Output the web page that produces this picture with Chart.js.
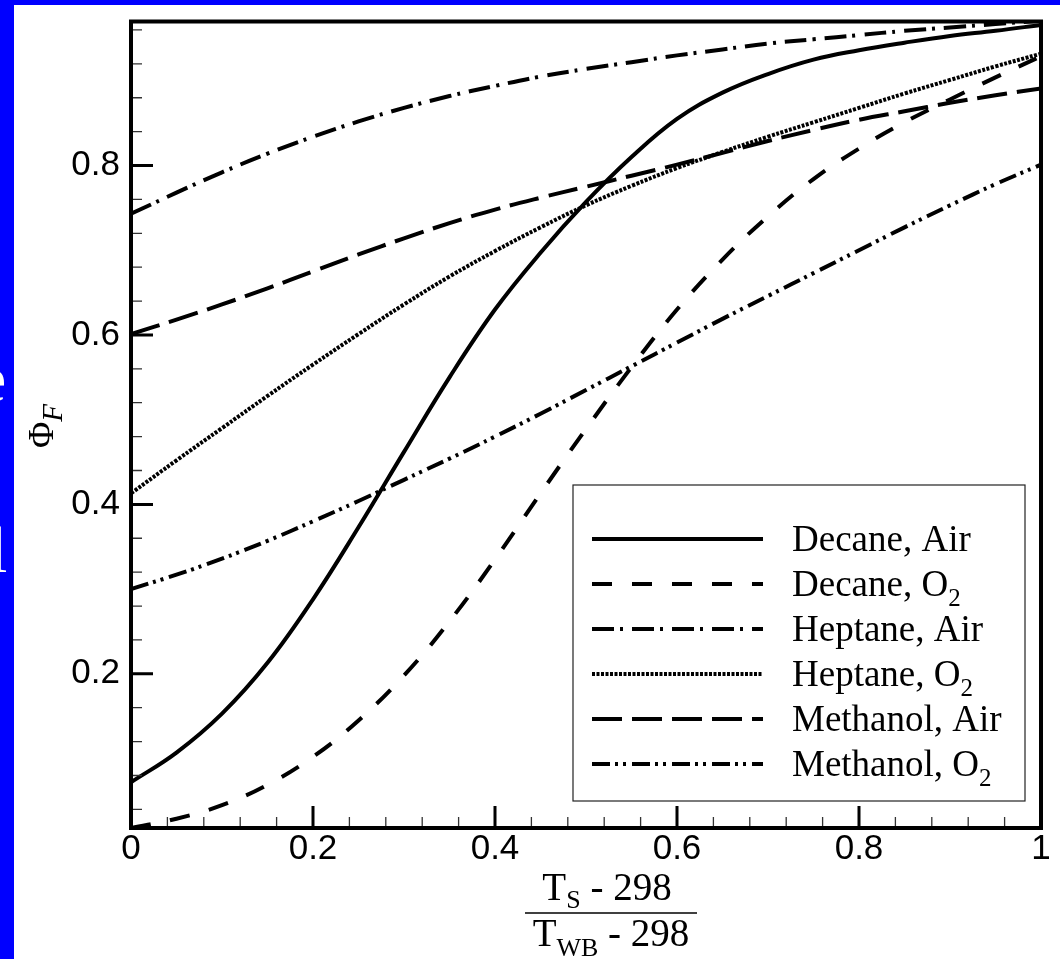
<!DOCTYPE html>
<html>
<head>
<meta charset="utf-8">
<script src="https://cdn.jsdelivr.net/npm/chart.js@4.4.1/dist/chart.umd.min.js"></script>
<style>
  html, body { margin: 0; padding: 0; background: #0000ff; width: 1060px; height: 959px; overflow: hidden; }
  #plot { position: absolute; left: 14px; top: 5px; width: 1046px; height: 954px; background: #fff; }
  .edge { position: absolute; left: 0; width: 14px; height: 80px; overflow: hidden; }
  .edge span { position: absolute; color: #fff; font: 66px/1 'Liberation Serif', 'Times New Roman', serif; }
</style>
</head>
<body>
<div class="edge" style="top:330px"><span style="left:-23px;top:16px">e</span></div>
<div class="edge" style="top:500px"><span style="left:-11px;top:17px">l</span></div>
<div id="plot"><canvas id="chartPhi" width="1046" height="954"></canvas></div>
<script>
const xValues = [0, 0.05, 0.1, 0.15, 0.2, 0.25, 0.3, 0.35, 0.4, 0.45, 0.5,
  0.55, 0.6, 0.65, 0.7, 0.75, 0.8, 0.85, 0.9, 0.95, 1];

const decaneAir = [0.072, 0.107, 0.153, 0.213, 0.288, 0.373, 0.462, 0.550, 0.630, 0.697, 0.757,
  0.810, 0.855, 0.886, 0.908, 0.925, 0.936, 0.945, 0.953, 0.959, 0.966];
const decaneO2 = [0.018, 0.029, 0.045, 0.069, 0.102, 0.145, 0.198, 0.262, 0.335, 0.413, 0.489,
  0.562, 0.630, 0.689, 0.740, 0.784, 0.820, 0.851, 0.878, 0.904, 0.929];
const heptaneAir = [0.743, 0.768, 0.792, 0.814, 0.834, 0.852, 0.868, 0.882, 0.894, 0.905, 0.914,
  0.922, 0.930, 0.937, 0.944, 0.949, 0.954, 0.959, 0.963, 0.967, 0.971];
const heptaneO2 = [0.413, 0.452, 0.490, 0.528, 0.565, 0.601, 0.636, 0.669, 0.699, 0.727, 0.753,
  0.776, 0.797, 0.816, 0.834, 0.851, 0.868, 0.885, 0.901, 0.917, 0.932];
const methanolAir = [0.601, 0.618, 0.636, 0.655, 0.675, 0.695, 0.714, 0.732, 0.748, 0.762, 0.775,
  0.788, 0.801, 0.815, 0.829, 0.842, 0.854, 0.864, 0.874, 0.883, 0.891];
const methanolO2 = [0.300, 0.317, 0.336, 0.357, 0.380, 0.404, 0.429, 0.454, 0.480, 0.507, 0.535,
  0.563, 0.591, 0.619, 0.646, 0.673, 0.700, 0.727, 0.753, 0.778, 0.801];

const seriesLabels = ['Decane, Air', 'Decane, O₂', 'Heptane, Air', 'Heptane, O₂', 'Methanol, Air', 'Methanol, O₂'];
const seriesValues = [decaneAir, decaneO2, heptaneAir, heptaneO2, methanolAir, methanolO2];

const xTicks = [0, 0.2, 0.4, 0.6, 0.8, 1];
const xTickLabels = ['0', '0.2', '0.4', '0.6', '0.8', '1'];
const yTicks = [0.2, 0.4, 0.6, 0.8];
const yTickLabels = ['0.2', '0.4', '0.6', '0.8'];
const minorTicks = [0.04, 0.08, 0.12, 0.16, 0.24, 0.28, 0.32, 0.36, 0.44, 0.48, 0.52, 0.56,
  0.64, 0.68, 0.72, 0.76, 0.84, 0.88, 0.92, 0.96];

// tecplot-ish line patterns
const lineStyles = [
  { dash: [], width: 4, cap: 'butt' },
  { dash: [20, 20], width: 4, cap: 'butt' },
  { dash: [22, 6, 3, 9], width: 4, cap: 'butt' },
  { dash: [3, 1.5], width: 4, cap: 'butt' },
  { dash: [30, 10], width: 4, cap: 'butt' },
  { dash: [18, 5, 3, 5, 3, 6], width: 4, cap: 'butt' },
];

const serif = "'Liberation Serif', 'Times New Roman', serif";

// draw "O₂" style labels with a real lowered subscript
function drawSub(ctx, parts, x, y, size, subSize, subDrop) {
  parts.forEach(p => {
    ctx.font = (p.italic ? 'italic ' : '') + (p.sub ? subSize : size) + 'px ' + serif;
    ctx.fillText(p.t, x, y + (p.sub ? subDrop : 0));
    x += ctx.measureText(p.t).width;
  });
  return x;
}
function partsWidth(ctx, parts, size, subSize) {
  let w = 0;
  parts.forEach(p => {
    ctx.font = (p.italic ? 'italic ' : '') + (p.sub ? subSize : size) + 'px ' + serif;
    w += ctx.measureText(p.t).width;
  });
  return w;
}
function splitLabel(label) {
  const i = label.indexOf('₂');
  if (i < 0) return [{ t: label }];
  return [{ t: label.slice(0, i) }, { t: '2', sub: true }];
}

const axesDecor = {
  id: 'axesDecor',
  afterDatasetsDraw(chart) {
    const { ctx, chartArea: a, scales: { x, y } } = chart;
    ctx.save();
    ctx.strokeStyle = '#333';
    ctx.lineWidth = 1.3;
    ctx.beginPath();
    minorTicks.forEach(v => {
      const px = x.getPixelForValue(v);
      ctx.moveTo(px, a.bottom); ctx.lineTo(px, a.bottom - 11);
      const py = y.getPixelForValue(v);
      if (py > a.top && py < a.bottom) { ctx.moveTo(a.left, py); ctx.lineTo(a.left + 11, py); }
    });
    ctx.stroke();
    ctx.strokeStyle = '#000';
    ctx.lineWidth = 3;
    ctx.beginPath();
    xTicks.forEach(v => {
      const px = x.getPixelForValue(v);
      ctx.moveTo(px, a.bottom); ctx.lineTo(px, a.bottom - 22);
    });
    yTicks.forEach(v => {
      const py = y.getPixelForValue(v);
      ctx.moveTo(a.left, py); ctx.lineTo(a.left + 22, py);
    });
    ctx.stroke();
    ctx.lineWidth = 4;
    ctx.strokeRect(a.left, a.top, a.width, a.height);

    // axis titles
    ctx.fillStyle = '#000';
    ctx.textAlign = 'left';
    ctx.textBaseline = 'alphabetic';
    const num = [{ t: 'T' }, { t: 'S', sub: true }, { t: ' - 298' }];
    const den = [{ t: 'T' }, { t: 'WB', sub: true }, { t: ' - 298' }];
    const cx = 597;
    drawSub(ctx, num, cx - 4 - partsWidth(ctx, num, 39, 26) / 2, 895, 39, 26, 8);
    drawSub(ctx, den, cx - partsWidth(ctx, den, 39, 26) / 2, 941, 39, 26, 10);
    ctx.lineWidth = 1.5;
    ctx.beginPath();
    ctx.moveTo(cx - 86, 908); ctx.lineTo(cx + 86, 908);
    ctx.stroke();

    const phi = [{ t: 'Φ' }, { t: 'F', sub: true, italic: true }];
    ctx.save();
    ctx.translate(39, 421);
    ctx.rotate(-Math.PI / 2);
    drawSub(ctx, phi, -partsWidth(ctx, phi, 36, 29) / 2, 0, 36, 29, 9);
    ctx.restore();
    ctx.restore();
  },
  afterDraw(chart) {
    const { ctx } = chart;
    ctx.save();
    ctx.fillStyle = '#fff';
    ctx.fillRect(559, 480, 452, 316);
    ctx.strokeStyle = '#222';
    ctx.lineWidth = 1.2;
    ctx.strokeRect(559, 480, 452, 316);
    chart.data.datasets.forEach((ds, i) => {
      const rowY = 534 + i * 45;
      ctx.strokeStyle = '#000';
      ctx.lineWidth = ds.borderWidth;
      ctx.lineCap = ds.borderCapStyle;
      ctx.setLineDash(ds.borderDash);
      ctx.beginPath();
      ctx.moveTo(578, rowY); ctx.lineTo(749, rowY);
      ctx.stroke();
      ctx.setLineDash([]);
      ctx.fillStyle = '#000';
      ctx.textAlign = 'left';
      ctx.textBaseline = 'alphabetic';
      drawSub(ctx, splitLabel(ds.label), 778, rowY + 12, 37, 25, 10);
    });
    ctx.restore();
  }
};

const datasets = seriesLabels.map((label, i) => ({
  label: label,
  data: xValues.map((xv, j) => ({ x: xv, y: seriesValues[i][j] })),
  borderColor: '#000',
  borderWidth: lineStyles[i].width,
  borderDash: lineStyles[i].dash,
  borderCapStyle: lineStyles[i].cap,
  tension: 0.4,
  pointRadius: 0,
  fill: false,
}));

const tickFont = { family: "'Liberation Sans', Arial, sans-serif", size: 35, lineHeight: 1 };

const configPhi = {
  type: 'line',
  data: { datasets: datasets },
  plugins: [axesDecor],
  options: {
    responsive: false,
    animation: false,
    events: [],
    layout: { padding: { top: 16.5, right: 19, left: 0, bottom: 0 } },
    plugins: { legend: { display: false }, tooltip: { enabled: false } },
    scales: {
      x: {
        type: 'linear',
        min: 0,
        max: 1,
        grid: { display: false, drawTicks: false },
        border: { display: false },
        afterBuildTicks: (scale) => { scale.ticks = xTicks.map(v => ({ value: v })); },
        afterFit: (scale) => {
          scale.height = 131;
          scale.paddingLeft = 0; scale.paddingRight = 0;
        },
        ticks: {
          autoSkip: false,
          maxRotation: 0,
          padding: 3.5,
          color: '#000',
          font: tickFont,
          callback: (v) => xTickLabels[xTicks.indexOf(v)],
        },
      },
      y: {
        type: 'linear',
        min: 0.018,
        max: 0.97,
        grid: { display: false, drawTicks: false },
        border: { display: false },
        afterBuildTicks: (scale) => { scale.ticks = yTicks.map(v => ({ value: v })); },
        afterFit: (scale) => {
          scale.width = 117;
          scale.paddingTop = 0; scale.paddingBottom = 0;
        },
        ticks: {
          autoSkip: false,
          padding: 11,
          color: '#000',
          font: tickFont,
          callback: (v) => yTickLabels[yTicks.indexOf(v)],
        },
      },
    },
  },
};

var chartPhi = new Chart(document.getElementById('chartPhi'), configPhi);
</script>
</body>
</html>
